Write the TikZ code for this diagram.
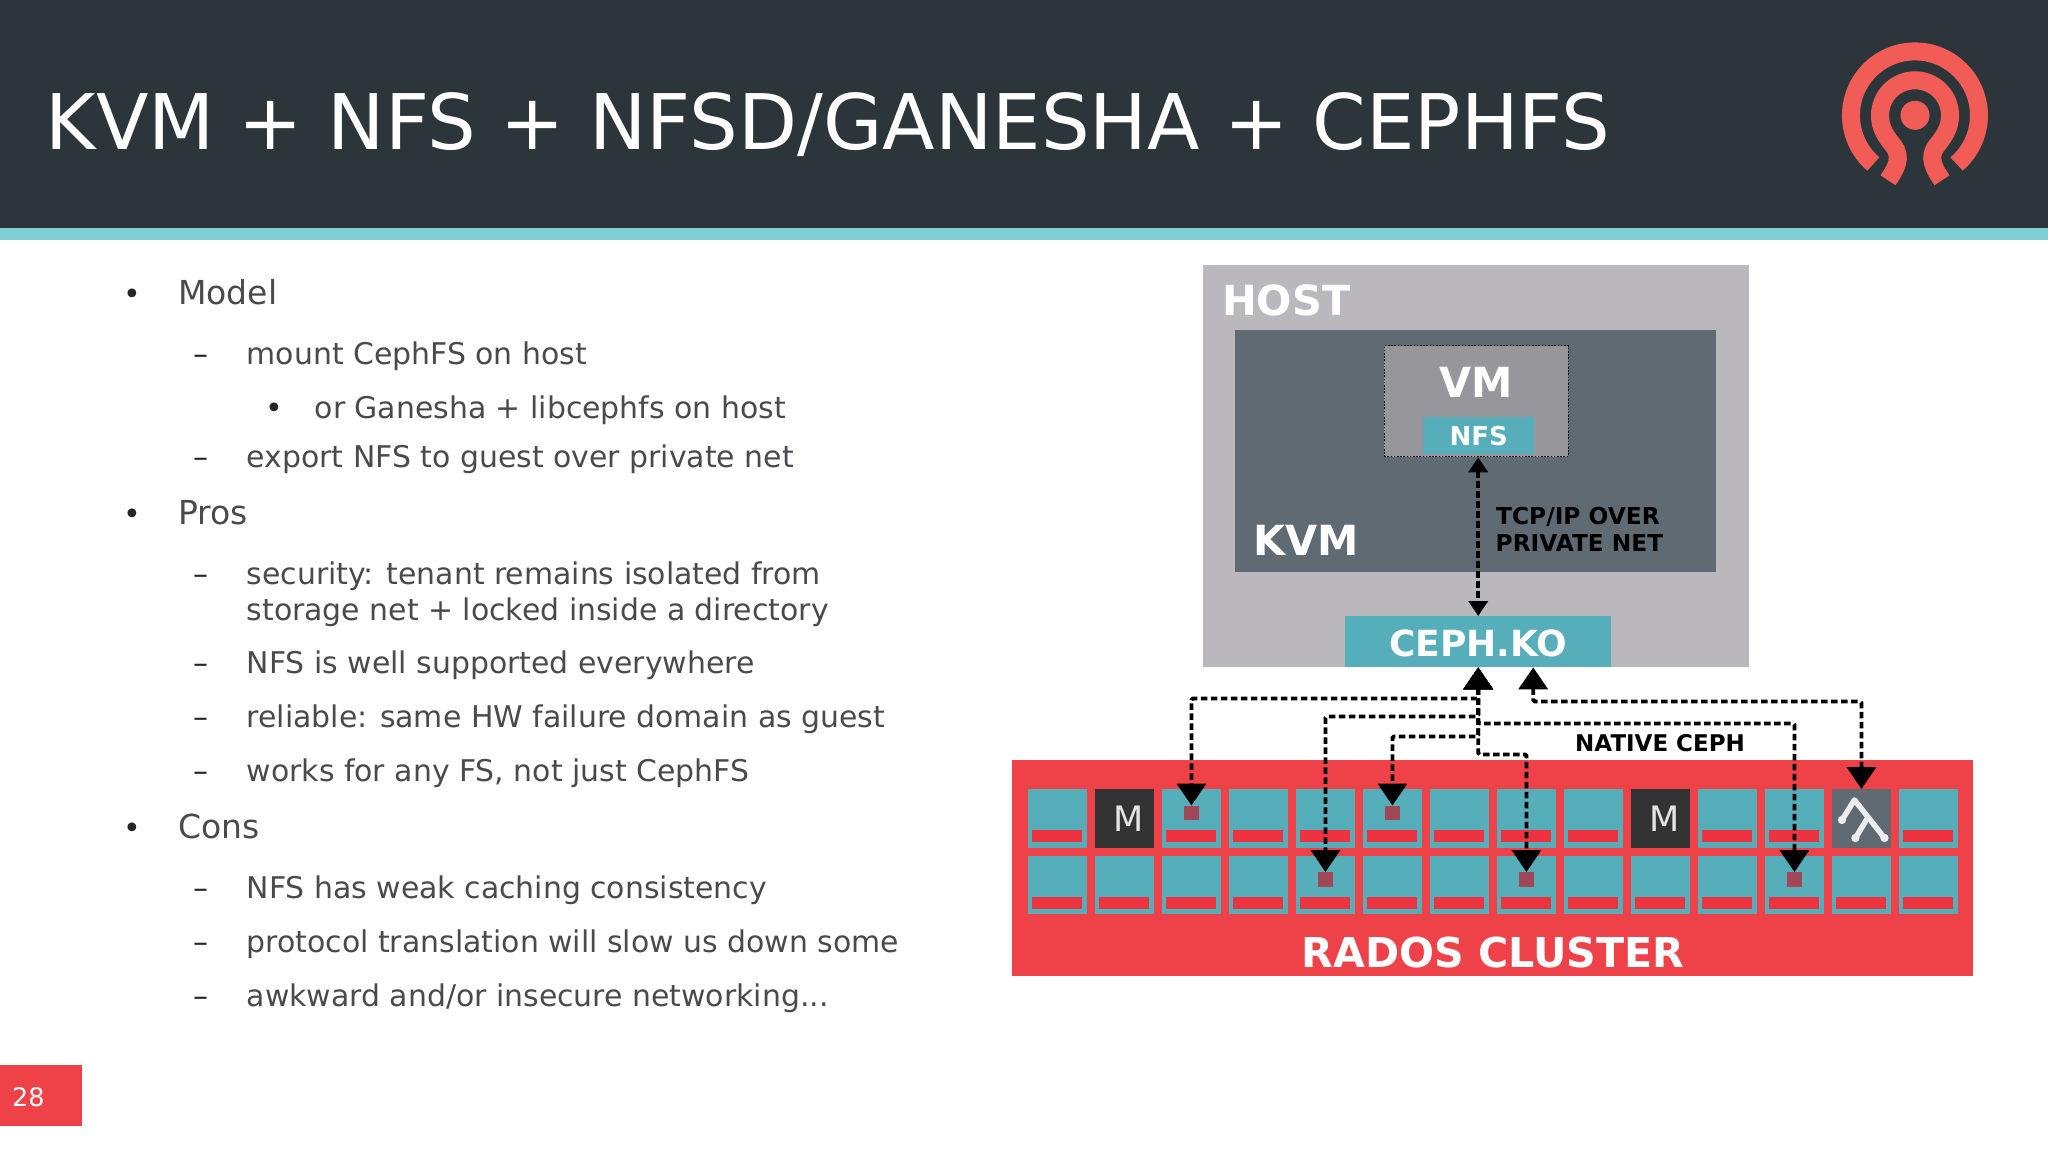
\documentclass[tikz,border=0pt]{standalone}
\usepackage{fontspec}
\setmainfont{DejaVu Sans}
\usepackage{tikz}
\usetikzlibrary{matrix,positioning,arrows.meta}

\definecolor{slatebar}{HTML}{2C3539}
\definecolor{bandteal}{HTML}{7FCFD6}
\definecolor{hostgrey}{HTML}{BAB8BC}
\definecolor{kvmgrey}{HTML}{5F6A72}
\definecolor{vmgrey}{HTML}{97979B}
\definecolor{osdteal}{HTML}{55AEBA}
\definecolor{radosred}{HTML}{EE4148}
\definecolor{barred}{HTML}{EE3340}
\definecolor{objred}{HTML}{A04858}
\definecolor{logored}{HTML}{F15D56}
\definecolor{bodygrey}{HTML}{4A4A4E}

\begin{document}
\begin{tikzpicture}[
	x=1pt,y=-1pt,
	plain/.style={
		inner sep=0pt,
		anchor=base west,
	},
	big/.style={
		plain,
		text=white,
		font=\fontsize{41.5}{41.5}\selectfont\bfseries,
	},
	small/.style={
		plain,
		text=black,
		font=\fontsize{23.3}{27}\selectfont\bfseries,
	},
	head/.style={
		plain,
		text=bodygrey,
		font=\fontsize{33}{33}\selectfont,
	},
	sub/.style={
		plain,
		text=bodygrey,
		font=\fontsize{29.9}{29.9}\selectfont,
	},
	dot/.style={
		inner sep=0pt,
		anchor=base,
		text=black!85,
		font=\fontsize{30}{30}\selectfont,
	},
	box/.style={
		inner sep=0pt,
		anchor=north west,
	},
	net/.style={
		matrix of nodes,
		nodes={
			fill=osdteal,
			inner sep=0pt,
			anchor=center,
			minimum width=58.5pt,
			minimum height=58.5pt
		},
		nodes in empty cells,
		inner sep=0pt,
		column sep=8.5pt,
		row sep=8pt
	},
	mon/.style={
		fill=black!80,
		text=white!90!black,
		font=\fontsize{35}{35}\selectfont,
	},
	fork/.style={
		fill=kvmgrey,
	},
	bar/.style={
		fill=barred,
		inner sep=0pt,
		minimum width=50pt,
		minimum height=12pt
	},
	obj/.style={
		fill=objred,
		inner sep=0pt,
		minimum size=14.5pt
	},
	native/.style={
		draw=black,
		line width=3.8pt,
		dash pattern=on 6.5pt off 3.5pt,
		rounded corners=1.5pt,
		{Triangle[length=22pt,width=29pt]}-{Triangle[length=22pt,width=29pt]},
	},
	tcp/.style={
		draw=black,
		line width=3.8pt,
		dash pattern=on 6.5pt off 3.5pt,
		{Triangle[length=15pt,width=19pt]}-{Triangle[length=15pt,width=19pt]},
	},
	]
	\useasboundingbox (0,0) rectangle (2048,1150);

	% header
	\fill[slatebar] (0,0) rectangle (2048,228);
	\fill[bandteal] (0,228) rectangle (2048,240);
	\node[plain,text=white,font=\fontsize{76.7}{76.7}\selectfont] (title) at (45.5,150) {KVM + NFS + NFSD/GANESHA + CEPHFS};

	% logo
	\begin{scope}[shift={(1915,115.3)},y=1pt,draw=logored,line width=18pt]
		\fill[logored] (0,0) circle (14.5);
		\draw (-41.7,-48.7) arc[start angle=229.4,end angle=-49.4,radius=64];
		\draw (-27,-65) .. controls (-19.6,-54) and (-12,-42) .. (-22,-30)
			.. controls (-30,-20) and (-35,-12) .. (-35,0)
			arc[start angle=180,end angle=0,radius=35]
			.. controls (35,-12) and (30,-20) .. (22,-30)
			.. controls (12,-42) and (19.6,-54) .. (27,-65);
	\end{scope}

	% bullet text
	\foreach \ty/\tx [count=\mi] in {305/Model,524/Pros,838/Cons}
	{
		\node[dot] (hd\mi) at (132,\ty) {•};
		\node[head] (h\mi) at (178,\ty) {\tx};
	}
	\foreach \ty/\tx [count=\mi] in {364/mount CephFS on host,467.5/export NFS to guest over private net,584/security: tenant remains isolated from,673/NFS is well supported everywhere,727/reliable: same HW failure domain as guest,781/{works for any FS, not just CephFS},898/NFS has weak caching consistency,952/protocol translation will slow us down some}
	{
		\node[dot,anchor=base west] (sd\mi) at (193,\ty) {–};
		\node[sub] (s\mi) at (246.5,\ty) {\tx};
	}
	\node[dot,anchor=base west] (sd9) at (193,1006) {–};
	\node[sub] (s9) at (246.5,1006) {awkward and/or insecure networking...};
	\node[sub] (s3b) at (246.5,620) {storage net + locked inside a directory};
	\node[dot] (or1) at (274.5,418) {•};
	\node[sub] (or2) at (314.5,418) {or Ganesha + libcephfs on host};

	% page number
	\fill[radosred] (0,1065) rectangle (82,1126);
	\node[plain,text=white,font=\fontsize{25.5}{25.5}\selectfont] (page) at (12,1106) {28};

	% host side
	\node[box,fill=hostgrey,minimum width=546pt,minimum height=402pt] (host) at (1203,265) {};
	\node[big] (hostlbl) at (1222,316) {HOST};
	\node[box,fill=kvmgrey,minimum width=481pt,minimum height=242pt] (kvm) at (1234.5,330) {};
	\node[big] (kvmlbl) at (1253,555) {KVM};
	\node[box,fill=vmgrey,draw=black,dash pattern=on 1.6pt off 1.6pt,line width=1.3pt,minimum width=184pt,minimum height=111pt] (vm) at (1383.5,345) {};
	\node[big,anchor=base] (vmlbl) at (1476.5,397) {VM};
	\node[box,fill=osdteal,minimum width=111pt,minimum height=37pt] (nfs) at (1423,417) {};
	\node[plain,anchor=base,text=white,font=\fontsize{26}{26}\selectfont\bfseries] (nfslbl) at (nfs.center |- 0,445.5) {NFS};
	\node[small,align=left,anchor=base west] (tcp1) at (1496,524) {TCP/IP OVER};
	\node[small,align=left,anchor=base west] (tcp2) at (1495.5,551) {PRIVATE NET};
	\node[box,fill=osdteal,minimum width=266pt,minimum height=51pt] (cephko) at (1345,616) {};
	\node[plain,anchor=base,text=white,font=\fontsize{36}{36}\selectfont\bfseries] (cephlbl) at (cephko.center |- 0,656) {CEPH.KO};
	\draw[tcp] (vm.south -| cephko.north) -- (cephko.north);

	% rados side
	\node[box,fill=radosred,minimum width=961pt,minimum height=216pt] (rados) at (1012,760) {};
	\matrix[net,anchor=north west] (mat) at (1028,789)
	{
		& |[mon]| \hspace{8pt}\raisebox{-1.3pt}{M} & & & & & & & & |[mon]| \hspace{8pt}\raisebox{-1.3pt}{M} & & & |[fork]| & \\
		& & & & & & & & & & & & & \\
	};
	\foreach \mc in {1,3,4,5,6,7,8,9,11,12,14}
	\node[bar] (bar-1-\mc) at ([yshift=11.5pt]mat-1-\mc.south) {};
	\foreach \mc in {1,2,...,14}
	\node[bar] (bar-2-\mc) at ([yshift=11.5pt]mat-2-\mc.south) {};
	\node[obj] (obja) at ([yshift=5.5pt]mat-1-3.center) {};
	\node[obj] (objb) at ([yshift=5.5pt]mat-2-5.center) {};
	\node[obj] (objc) at ([yshift=5.5pt]mat-1-6.center) {};
	\node[obj] (objd) at ([yshift=5.5pt]mat-2-8.center) {};
	\node[obj] (obje) at ([yshift=5.5pt]mat-2-12.center) {};
	\node[plain,anchor=base,text=white,font=\fontsize{41.2}{41.2}\selectfont\bfseries] (radoslbl) at (1493,967) {RADOS CLUSTER};
	\node[plain,text=black,font=\fontsize{23}{23}\selectfont\bfseries] (nativelbl) at (1575,751) {NATIVE CEPH};

	% mds tree
	\begin{scope}[shift={(mat-1-13.center)},draw=white!88!kvmgrey,fill=white!88!kvmgrey,line width=5.5pt,line cap=round,line join=round]
		\draw (-19.5,1.5) -- (-7,-18.5) -- (23,19.5);
		\draw (5.5,0.5) -- (-6,19.5);
		\fill[line width=0pt] (-19.5,1.5) circle (4.2) (23,19.5) circle (4.2) (-6,19.5) circle (4.2);
	\end{scope}

	% native ceph routes
	\coordinate (cephtap) at ([xshift=55pt]cephko.south);
	\draw[native] (cephko.south) -- ++(0,31) -| (obja.north);
	\draw[native] (cephko.south) -- ++(0,49) -| (objb.north);
	\draw[native] (cephko.south) -- ++(0,69) -| (objc.north);
	\draw[native] (cephko.south) -- ++(0,87) -| (objd.north);
	\draw[native] (cephko.south) -- ++(0,56) -| (obje.north);
	\draw[native] (cephtap) -- ++(0,34) -| (mat-1-13.north);
\end{tikzpicture}
\end{document}
